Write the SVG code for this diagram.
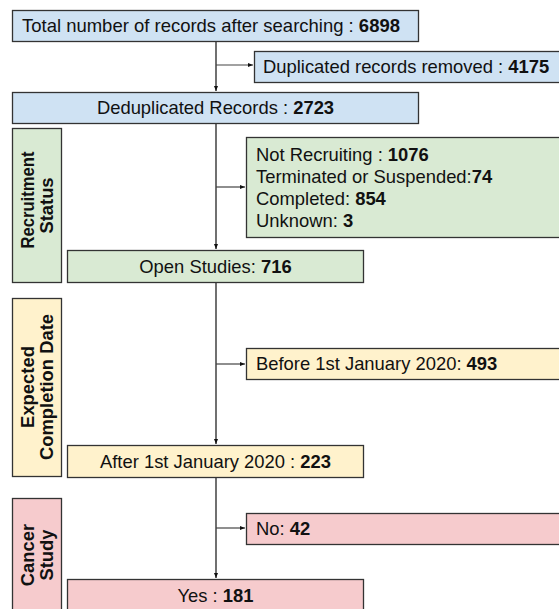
<svg xmlns="http://www.w3.org/2000/svg" width="559" height="609" viewBox="0 0 559 609">
<style>
text{font-family:"Liberation Sans",Arial,sans-serif;font-size:18.4px;fill:#111}
.b{font-weight:bold}
.box{stroke:#333;stroke-width:1.3}
.blue{fill:#cfe2f3}.green{fill:#d9ead3}.yellow{fill:#fff2cc}.pink{fill:#f6cbcd}
.c{text-anchor:middle}
.ln{stroke:#111;stroke-width:1.2;fill:none}
.br{stroke:#444;stroke-width:1.2;fill:none}
</style>
<defs>
<marker id="ah" markerWidth="6" markerHeight="6" refX="5" refY="3" orient="auto" markerUnits="userSpaceOnUse">
<path d="M0,1 L5,3 L0,5 Z" fill="#111"/>
</marker>
</defs>
<rect width="559" height="609" fill="#fff"/>
<g id="connectors">
<path class="ln" d="M216,41 V91" marker-end="url(#ah)"/>
<path class="br" d="M216,65 H253" marker-end="url(#ah)"/>
<path class="ln" d="M216,123 V249" marker-end="url(#ah)"/>
<path class="br" d="M216,187 H245" marker-end="url(#ah)"/>
<path class="ln" d="M216,282 V444" marker-end="url(#ah)"/>
<path class="br" d="M216,364 H245" marker-end="url(#ah)"/>
<path class="ln" d="M216,477 V578" marker-end="url(#ah)"/>
<path class="br" d="M216,528 H245" marker-end="url(#ah)"/>
</g>
<g id="total">
<rect class="box blue" x="12.5" y="10.5" width="406" height="31"/>
<text x="22" y="31.5" textLength="378" lengthAdjust="spacingAndGlyphs">Total number of records after searching : <tspan class="b">6898</tspan></text>
</g>
<g id="duplicated">
<rect class="box blue" x="254.5" y="51.5" width="320" height="31"/>
<text x="263" y="72.5">Duplicated records removed : <tspan class="b">4175</tspan></text>
</g>
<g id="dedup">
<rect class="box blue" x="12.5" y="92.5" width="406" height="31"/>
<text class="c" x="215.5" y="114">Deduplicated Records : <tspan class="b">2723</tspan></text>
</g>
<g id="recruitment-label">
<rect class="box green" x="12.5" y="128.5" width="49" height="154"/>
<text class="b c" transform="translate(34,200) rotate(-90)" textLength="97" lengthAdjust="spacingAndGlyphs">Recruitment</text>
<text class="b c" transform="translate(53,205.5) rotate(-90)">Status</text>
</g>
<g id="excluded-status">
<rect class="box green" x="246.5" y="137.5" width="330" height="100"/>
<text x="256" y="161">Not Recruiting : <tspan class="b">1076</tspan></text>
<text x="256" y="183">Terminated or Suspended:<tspan class="b">74</tspan></text>
<text x="256" y="205">Completed: <tspan class="b">854</tspan></text>
<text x="256" y="227">Unknown: <tspan class="b">3</tspan></text>
</g>
<g id="open">
<rect class="box green" x="67.5" y="250.5" width="296" height="32"/>
<text class="c" x="215.5" y="273">Open Studies: <tspan class="b">716</tspan></text>
</g>
<g id="completion-label">
<rect class="box yellow" x="12.5" y="298.5" width="49" height="178"/>
<text class="b c" transform="translate(33.5,387) rotate(-90)">Expected</text>
<text class="b c" transform="translate(53,387) rotate(-90)">Completion Date</text>
</g>
<g id="before">
<rect class="box yellow" x="246.5" y="348.5" width="330" height="31"/>
<text x="256" y="370">Before 1st January 2020: <tspan class="b">493</tspan></text>
</g>
<g id="after">
<rect class="box yellow" x="67.5" y="445.5" width="296" height="32"/>
<text class="c" x="215.5" y="467.5">After 1st January 2020 : <tspan class="b">223</tspan></text>
</g>
<g id="cancer-label">
<rect class="box pink" x="12.5" y="498.5" width="49" height="140"/>
<text class="b c" transform="translate(34,555) rotate(-90)">Cancer</text>
<text class="b c" transform="translate(53,555) rotate(-90)">Study</text>
</g>
<g id="no">
<rect class="box pink" x="246.5" y="513.5" width="330" height="31"/>
<text x="256" y="535">No: <tspan class="b">42</tspan></text>
</g>
<g id="yes">
<rect class="box pink" x="67.5" y="579.5" width="296" height="40"/>
<text class="c" x="215.5" y="602">Yes : <tspan class="b">181</tspan></text>
</g>
</svg>
